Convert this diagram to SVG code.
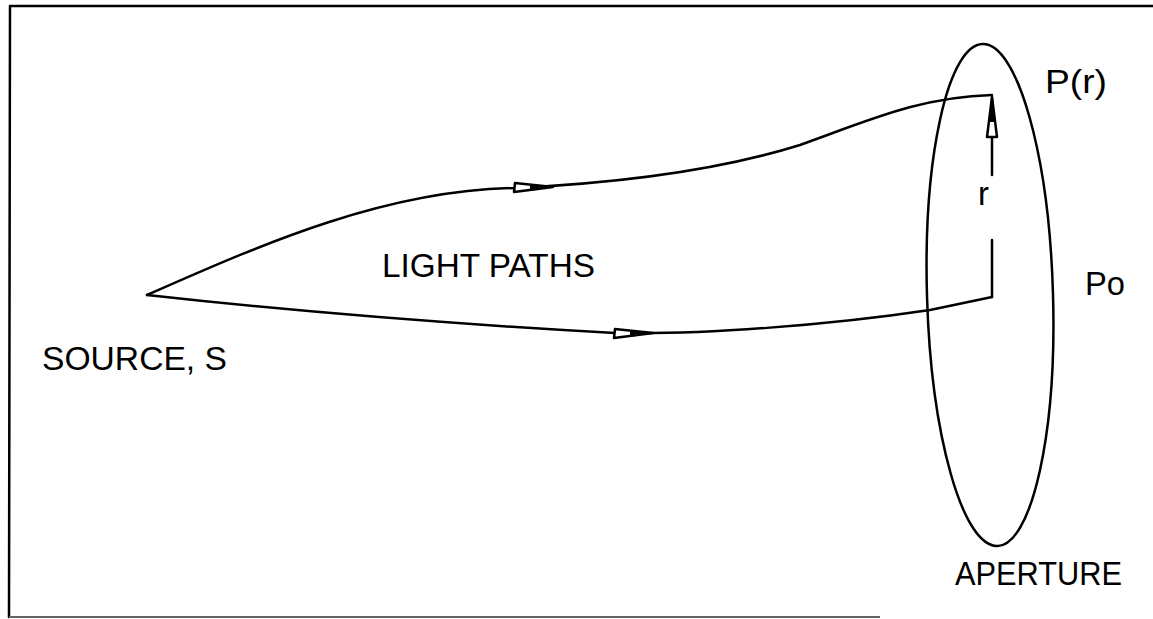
<svg xmlns="http://www.w3.org/2000/svg" width="1153" height="619" viewBox="0 0 1153 619">
<style>
.ln{fill:none;stroke:#000;stroke-width:2.5;stroke-linejoin:round;stroke-linecap:round}
.t{font-family:"Liberation Sans",Arial,sans-serif;font-size:33px;fill:#000}
.ah{fill:#fff;stroke:#000;stroke-width:2.5;stroke-linejoin:round}
</style>
<rect width="1153" height="619" fill="#fff"/>
<g id="frame">
<polyline class="ln" points="1153,6 10,6 9,617" stroke-width="3"/>
<line x1="9" y1="617" x2="880" y2="617" stroke="#666" stroke-width="2"/>
</g>
<g id="aperture">
<ellipse class="ln" cx="990" cy="295" rx="63" ry="251" transform="rotate(-1.7 990 295)"/>
<text class="t" x="955" y="585" textLength="167" lengthAdjust="spacingAndGlyphs">APERTURE</text>
</g>
<g id="source">
<text class="t" x="42" y="370" textLength="185" lengthAdjust="spacingAndGlyphs">SOURCE, S</text>
</g>
<g id="labels">
<text class="t" x="382" y="277" textLength="213" lengthAdjust="spacingAndGlyphs">LIGHT PATHS</text>
<text class="t" x="1045" y="93" textLength="62" lengthAdjust="spacingAndGlyphs">P(r)</text>
<text class="t" x="1085" y="295" textLength="40" lengthAdjust="spacingAndGlyphs">Po</text>
<text class="t" x="978" y="205" font-size="28">r</text>
</g>
<g id="connectors">
<path class="ln" d="M147,295 C250,250 380,190 515,188 C620,183 720,170 800,145 C870,120 920,97 992,95"/>
<path class="ln" d="M147,295 C300,312 470,325 615,333 C700,335 830,325 930,310 L992,297"/>
<line class="ln" x1="992" y1="297" x2="992" y2="240"/>
<line class="ln" x1="992" y1="175" x2="992" y2="98"/>
<polygon class="ah" points="992,97 997,137 987,137"/>
<polygon points="992,97 995,122 989,122"/>
<polygon class="ah" points="553,187 515,183 514,192"/>
<polygon points="553,187 530,184 530,191"/>
<polygon class="ah" points="653,333 615,329 614,338"/>
<polygon points="653,333 630,330 630,337"/>
</g>
</svg>
